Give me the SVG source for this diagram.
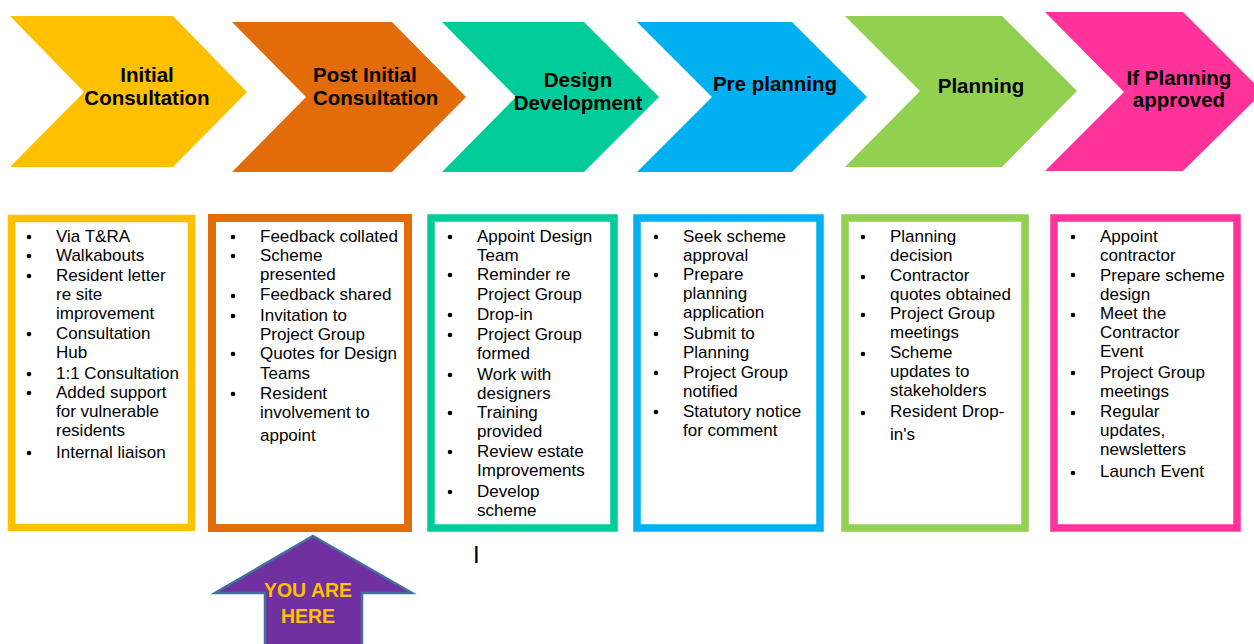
<svg xmlns="http://www.w3.org/2000/svg" width="1254" height="644" viewBox="0 0 1254 644">
<style>
.hd{font-family:"Liberation Sans",Arial,sans-serif;font-weight:bold;font-size:20.5px;fill:#000;text-anchor:middle}
.li{font-family:"Liberation Sans",Arial,sans-serif;font-size:17px;fill:#000}
.box{fill:#fff;stroke-width:7.5}
.bul{fill:#000}
.here{font-family:"Liberation Sans",Arial,sans-serif;font-weight:bold;font-size:19.5px;fill:#FFC000;text-anchor:middle}
</style>
<rect width="1254" height="644" fill="#fff"/>

<g id="chevron-initial">
<polygon points="10,16 173,16 247,92 173,167 10,167 84,92" fill="#FFC000"/>
<text class="hd"><tspan x="147" y="82">Initial</tspan><tspan x="147" y="105">Consultation</tspan></text>
</g>
<g id="chevron-post-initial">
<polygon points="232,22 392,22 466,97 392,172 232,172 306,97" fill="#E26B0A"/>
<text class="hd" style="text-anchor:start"><tspan x="313" y="82">Post Initial</tspan><tspan x="313" y="105">Consultation</tspan></text>
</g>
<g id="chevron-design">
<polygon points="442,22 584,22 659,97 584,172 442,172 516,97" fill="#00CC99"/>
<text class="hd"><tspan x="578" y="87">Design</tspan><tspan x="578" y="110">Development</tspan></text>
</g>
<g id="chevron-preplanning">
<polygon points="637,22 792,22 867,97 792,172 637,172 712,97" fill="#00B0F0"/>
<text class="hd"><tspan x="775" y="91">Pre planning</tspan></text>
</g>
<g id="chevron-planning">
<polygon points="845,16 1002,16 1077,91 1002,167 845,167 920,91" fill="#92D050"/>
<text class="hd"><tspan x="981" y="93">Planning</tspan></text>
</g>
<g id="chevron-approved">
<polygon points="1045,12 1183,12 1263,92 1183,171 1045,171 1124,92" fill="#FF3399"/>
<text class="hd"><tspan x="1179" y="85">If Planning</tspan><tspan x="1179" y="107">approved</tspan></text>
</g>

<g id="box-initial">
<rect class="box" x="11.5" y="218.5" width="180" height="309" stroke="#FFC000"/>
<g class="bul"><circle cx="29" cy="237" r="2.3"/><circle cx="29" cy="256" r="2.3"/><circle cx="29" cy="276" r="2.3"/><circle cx="29" cy="334" r="2.3"/><circle cx="29" cy="374" r="2.3"/><circle cx="29" cy="393" r="2.3"/><circle cx="29" cy="453" r="2.3"/></g>
<text class="li"><tspan x="56" y="242">Via T&amp;RA</tspan><tspan x="56" y="261">Walkabouts</tspan><tspan x="56" y="281">Resident letter</tspan><tspan x="56" y="300">re site</tspan><tspan x="56" y="319">improvement</tspan><tspan x="56" y="339">Consultation</tspan><tspan x="56" y="358">Hub</tspan><tspan x="56" y="379">1:1 Consultation</tspan><tspan x="56" y="398">Added support</tspan><tspan x="56" y="417">for vulnerable</tspan><tspan x="56" y="436">residents</tspan><tspan x="56" y="458">Internal liaison</tspan></text>
</g>

<g id="box-post-initial">
<rect class="box" x="212" y="218" width="196" height="310" stroke="#E26B0A" style="stroke-width:8"/>
<g class="bul"><circle cx="233" cy="237" r="2.3"/><circle cx="233" cy="256" r="2.3"/><circle cx="233" cy="296" r="2.3"/><circle cx="233" cy="316" r="2.3"/><circle cx="233" cy="354" r="2.3"/><circle cx="233" cy="394" r="2.3"/></g>
<text class="li"><tspan x="260" y="242">Feedback collated</tspan><tspan x="260" y="261">Scheme</tspan><tspan x="260" y="280">presented</tspan><tspan x="260" y="300">Feedback shared</tspan><tspan x="260" y="321">Invitation to</tspan><tspan x="260" y="340">Project Group</tspan><tspan x="260" y="359">Quotes for Design</tspan><tspan x="260" y="379">Teams</tspan><tspan x="260" y="399">Resident</tspan><tspan x="260" y="418">involvement to</tspan><tspan x="260" y="441">appoint</tspan></text>
</g>

<g id="box-design">
<rect class="box" x="431" y="218" width="183" height="310" stroke="#00CC99"/>
<g class="bul"><circle cx="450" cy="237" r="2.3"/><circle cx="450" cy="275" r="2.3"/><circle cx="450" cy="315" r="2.3"/><circle cx="450" cy="335" r="2.3"/><circle cx="450" cy="375" r="2.3"/><circle cx="450" cy="413" r="2.3"/><circle cx="450" cy="452" r="2.3"/><circle cx="450" cy="492" r="2.3"/></g>
<text class="li"><tspan x="477" y="242">Appoint Design</tspan><tspan x="477" y="261">Team</tspan><tspan x="477" y="280">Reminder re</tspan><tspan x="477" y="300">Project Group</tspan><tspan x="477" y="320">Drop-in</tspan><tspan x="477" y="340">Project Group</tspan><tspan x="477" y="359">formed</tspan><tspan x="477" y="380">Work with</tspan><tspan x="477" y="399">designers</tspan><tspan x="477" y="418">Training</tspan><tspan x="477" y="437">provided</tspan><tspan x="477" y="457">Review estate</tspan><tspan x="477" y="476">Improvements</tspan><tspan x="477" y="497">Develop</tspan><tspan x="477" y="516">scheme</tspan></text>
</g>

<g id="box-preplanning">
<rect class="box" x="637" y="218" width="183" height="310" stroke="#00B0F0"/>
<g class="bul"><circle cx="656" cy="237" r="2.3"/><circle cx="656" cy="275" r="2.3"/><circle cx="656" cy="334" r="2.3"/><circle cx="656" cy="373" r="2.3"/><circle cx="656" cy="412" r="2.3"/></g>
<text class="li"><tspan x="683" y="242">Seek scheme</tspan><tspan x="683" y="261">approval</tspan><tspan x="683" y="280">Prepare</tspan><tspan x="683" y="299">planning</tspan><tspan x="683" y="318">application</tspan><tspan x="683" y="339">Submit to</tspan><tspan x="683" y="358">Planning</tspan><tspan x="683" y="378">Project Group</tspan><tspan x="683" y="397">notified</tspan><tspan x="683" y="417">Statutory notice</tspan><tspan x="683" y="436">for comment</tspan></text>
</g>

<g id="box-planning">
<rect class="box" x="845" y="218" width="180" height="310" stroke="#92D050"/>
<g class="bul"><circle cx="863" cy="237" r="2.3"/><circle cx="863" cy="277" r="2.3"/><circle cx="863" cy="315" r="2.3"/><circle cx="863" cy="354" r="2.3"/><circle cx="863" cy="413" r="2.3"/></g>
<text class="li"><tspan x="890" y="242">Planning</tspan><tspan x="890" y="261">decision</tspan><tspan x="890" y="281">Contractor</tspan><tspan x="890" y="300">quotes obtained</tspan><tspan x="890" y="319">Project Group</tspan><tspan x="890" y="338">meetings</tspan><tspan x="890" y="358">Scheme</tspan><tspan x="890" y="377">updates to</tspan><tspan x="890" y="396">stakeholders</tspan><tspan x="890" y="417">Resident Drop-</tspan><tspan x="890" y="440">in's</tspan></text>
</g>

<g id="box-approved">
<rect class="box" x="1054" y="218" width="183" height="310" stroke="#FF3399"/>
<g class="bul"><circle cx="1073" cy="237" r="2.3"/><circle cx="1073" cy="275" r="2.3"/><circle cx="1073" cy="315" r="2.3"/><circle cx="1073" cy="373" r="2.3"/><circle cx="1073" cy="413" r="2.3"/><circle cx="1073" cy="473" r="2.3"/></g>
<text class="li"><tspan x="1100" y="242">Appoint</tspan><tspan x="1100" y="261">contractor</tspan><tspan x="1100" y="281">Prepare scheme</tspan><tspan x="1100" y="300">design</tspan><tspan x="1100" y="319">Meet the</tspan><tspan x="1100" y="338">Contractor</tspan><tspan x="1100" y="357">Event</tspan><tspan x="1100" y="378">Project Group</tspan><tspan x="1100" y="397">meetings</tspan><tspan x="1100" y="417">Regular</tspan><tspan x="1100" y="436">updates,</tspan><tspan x="1100" y="455">newsletters</tspan><tspan x="1100" y="477">Launch Event</tspan></text>
</g>

<g id="connectors"></g>

<text x="473" y="563" style="font-family:'Liberation Sans',Arial,sans-serif;font-size:24px;fill:#000">I</text>

<g id="you-are-here">
<polygon points="313,536 412,593 362,593 362,650 265,650 265,593 215,593" fill="#7030A0" stroke="#41719C" stroke-width="2.5" stroke-linejoin="miter"/>
<text class="here"><tspan x="308" y="597">YOU ARE</tspan><tspan x="308" y="623">HERE</tspan></text>
</g>
</svg>
